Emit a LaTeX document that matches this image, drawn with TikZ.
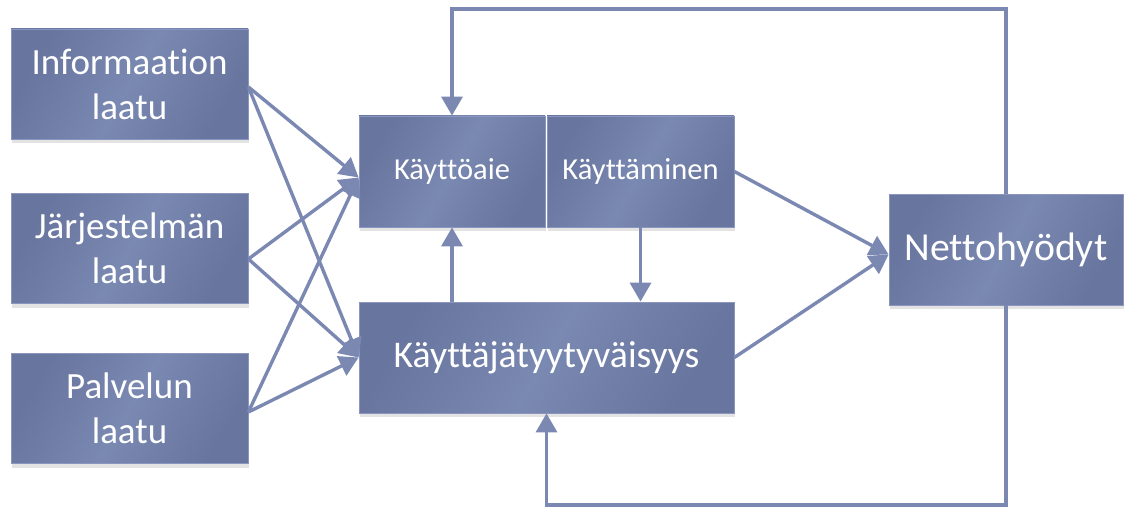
\documentclass[tikz,border=0pt]{standalone}
\usepackage{fontspec}
\setmainfont{Carlito}[Ligatures=NoCommon]
\usetikzlibrary{arrows.meta,shadows}
\definecolor{boxdark}{RGB}{104,117,158}
\definecolor{boxlight}{RGB}{122,137,178}
\definecolor{boxedge}{RGB}{138,150,190}
\definecolor{linecol}{RGB}{122,136,178}
\begin{document}
\begin{tikzpicture}[x=1pt,y=-1pt,
  box/.style={rectangle, inner sep=0pt, text=white, align=center,
    draw=boxedge, line width=0.8pt,
    left color=boxdark, right color=boxdark, middle color=boxlight, shading angle=60,
    drop shadow={shadow xshift=1pt,shadow yshift=-4pt,opacity=0.22}},
  leftbox/.style={box, minimum width=237pt, minimum height=110pt, font=\fontsize{37}{45}\selectfont},
  conn/.style={draw=linecol, line width=3.4pt},
  arr/.style={conn, -{Triangle[length=19pt,width=21pt]}}]
\useasboundingbox (0,0) rectangle (1124,508);

\node[leftbox] (info) at (129.5,84) {Informaation\\laatu};
\node[leftbox] (jarj) at (129.5,248.5) {Järjestelmän\\laatu};
\node[leftbox] (palv) at (129.5,408.5) {Palvelun\\laatu};
\node[box, minimum width=186pt, minimum height=111pt, font=\fontsize{30.5}{36}\selectfont] (aie) at (452,171.5) {Käyttöaie};
\node[box, minimum width=187pt, minimum height=111pt, font=\fontsize{30.5}{36}\selectfont] (kaytt) at (640.5,171.5) {Käyttäminen};
\node[box, minimum width=375pt, minimum height=111pt, font=\fontsize{37.7}{44}\selectfont] (tyyt) at (546.5,357.5) {Käyttäjätyytyväisyys};
\node[box, minimum width=234pt, minimum height=111pt, font=\fontsize{39.7}{46}\selectfont] (netto) at (1006,249.5) {Nettohyödyt};

\coordinate (i1) at ([yshift=-3pt]info.east);
\coordinate (j1) at ([yshift=-10.5pt]jarj.east);
\coordinate (p1) at ([yshift=-3.5pt]palv.east);
\coordinate (aieIn) at ([yshift=-6pt]aie.west);
\coordinate (tyytIn) at (tyyt.west);
\coordinate (nettoIn) at ([yshift=-5pt]netto.west);
\coordinate (ytop) at (0,9);
\coordinate (ybot) at (0,505);

\draw[arr] (i1) -- (aieIn);
\draw[arr] (i1) -- (tyytIn);
\draw[arr] (j1) -- (aieIn);
\draw[arr] (j1) -- (tyytIn);
\draw[arr] (p1) -- (aieIn);
\draw[arr] (p1) -- (tyytIn);

\draw[arr] (tyyt.north -| aie.south) -- (aie.south);
\draw[arr] (kaytt.south) -- (tyyt.north -| kaytt.south);
\draw[arr] (kaytt.east) -- (nettoIn);
\draw[arr] (tyyt.east) -- (nettoIn);

\draw[arr] (netto.north) -- (netto.north |- ytop) -| (aie.north);
\draw[arr] (netto.south) -- (netto.south |- ybot) -| (tyyt.south);
\end{tikzpicture}
\end{document}
